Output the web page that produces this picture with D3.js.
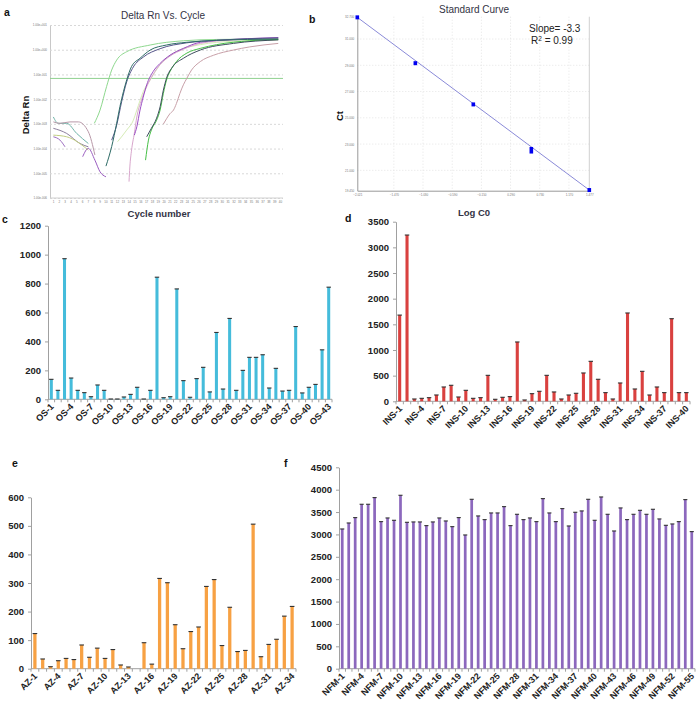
<!DOCTYPE html>
<html><head><meta charset="utf-8">
<script src="https://cdn.jsdelivr.net/npm/d3@7"></script>
<style>
body{margin:0;background:#fff}
svg{display:block;font-family:Arial,"Liberation Sans",sans-serif}
</style>
</head><body>
<svg id="chart" width="697" height="706"></svg>
<script>
// ================= DATA =================
// Panel a: amplification curves, [cycle, delta Rn]
const ampRnTicks = [1e-6, 1e-5, 1e-4, 1e-3, 1e-2, 1e-1, 1e0, 1e1];
const ampCycleTicks = d3.range(1, 41);
const ampThreshold = 0.069;
const ampNoise1 = [[1.06,1.9e-3],[1.9,1.05e-3],[3.35,1.05e-3],[5.07,4.1e-4],[7.07,1.6e-4]];
const ampNoise2 = [[1.06,1.2e-3],[2.2,1.05e-3],[3.9,1.2e-3],[5.35,1.2e-3],[7.07,4.8e-4],[8.2,5.5e-5]];
const ampNoise3 = [[1.06,6.6e-4],[3.35,4.1e-4],[5.64,1.6e-4],[7.07,1.18e-4]];
const ampNoise4 = [[1.06,3.5e-4],[3.35,3e-4],[7.07,8.7e-5]];
const ampNoise5 = [[1.06,3e-4],[2.2,2.2e-4],[3.06,1.18e-4]];
const ampNoise6 = [[6.1,4.7e-5],[7.07,1.02e-4],[8.2,3.4e-5],[9.08,1.15e-5],[10.1,7.2e-6]];
const ampCurve1 = [[8.1,1.05e-3],[9.08,3.6e-3],[10.2,3.2e-2],[11.08,0.15],[11.94,0.38],[13.66,0.83],[17.7,1.55],[23.4,2.3],[29.1,2.6],[39.7,2.7]];
const ampCurve2 = [[10.1,1.95e-5],[11.08,1.2e-4],[11.94,1.05e-3],[12.5,5e-3],[13.1,0.02],[13.66,0.06],[14.5,0.21],[15.95,0.45],[17.7,0.97],[20.5,1.55],[24,2.0],[29.1,2.4],[39.7,2.7]];
const ampCurve3 = [[11.08,2.2e-4],[11.94,8.9e-4],[12.8,8e-3],[13.66,0.05],[14.8,0.2],[16.5,0.5],[19.4,1.1],[24,1.9],[29.1,2.4],[39.7,3.0]];
const ampCurve4 = [[12.1,1.9e-4],[13.66,5.6e-4],[14.8,1.4e-3],[15.4,3.6e-3],[16.5,0.02],[17.7,0.06],[19.4,0.25],[22,0.8],[26.3,1.6],[32,2.2],[39.7,2.5]];
const ampCurve5 = [[14.97,3.5e-4],[15.4,7.6e-4],[15.95,3.6e-3],[16.5,0.012],[17.1,0.038],[18.2,0.13],[19.4,0.28],[21.1,0.6],[23.4,1.13],[26.3,2.0],[32,2.6],[39.7,3.1]];
const ampCurve6 = [[14.06,4.6e-6],[14.2,1.8e-5],[14.5,8.7e-5],[14.97,4.1e-4],[15.4,1.9e-3],[16.2,9.2e-3],[17.1,0.032],[18.2,0.1],[19.4,0.25],[21.1,0.55],[23.4,1.05],[26.3,1.8],[32,2.5],[39.7,2.9]];
const ampCurve7 = [[16.9,3.4e-5],[17.4,2.2e-4],[17.9,5.6e-4],[18.8,1.4e-3],[19.4,3.6e-3],[19.96,0.017],[20.5,0.059],[21.1,0.13],[22.2,0.33],[24,0.73],[26.3,1.13],[29.1,1.6],[34.8,2.3],[39.7,2.6]];
const ampCurve8 = [[17.1,3e-4],[17.9,6.6e-4],[18.8,1.7e-3],[19.4,4.9e-3],[19.96,0.023],[20.5,0.07],[21.6,0.21],[23.4,0.45],[26.3,0.97],[32,1.8],[39.7,2.5]];
const ampCurve9 = [[19.96,9.8e-4],[20.5,1.6e-3],[21.1,2.6e-3],[21.7,3.6e-3],[22.2,6.6e-3],[22.8,0.017],[23.4,0.038],[24,0.07],[24.8,0.15],[26.3,0.33],[28.6,0.6],[32,0.97],[34.8,1.3],[39.7,1.8]];

// Panel b: standard curve
const stdLogC0 = [-2.021, -1.146, -0.272, 0.603, 1.477];
const stdCt = [32.65, 29.16, 26.02, 22.53, 19.5];
const stdCtErr = [0.1, 0.12, 0.15, 0.25, 0.1];
const stdGridX = [-1.47, -1.03, -0.59, -0.15, 0.29, 0.73, 1.17];
const stdGridY = [21, 23, 25, 27, 29, 31];
const stdSlopeText = "Slope= -3.3";
const stdR2Value = "0.99";

// Panel c: OS
const osSamples = d3.range(1, 44).map(i => "OS-" + i);
const osValues = [138,62,972,147,62,46,18,99,62,2,2,16,34,83,2,62,844,11,18,763,129,14,143,221,51,462,71,559,62,200,290,290,308,78,214,57,62,503,44,83,103,342,775];
const osTicks = [0,200,400,600,800,1000,1200];

// Panel d: INS
const insSamples = d3.range(1, 41).map(i => "INS-" + i);
const insValues = [1680,3240,45,58,71,123,279,312,84,214,58,71,506,39,78,91,1156,26,149,195,506,182,45,123,156,552,779,429,169,45,357,1721,240,584,123,279,169,1610,169,169];
const insTicks = [0,500,1000,1500,2000,2500,3000,3500];

// Panel e: AZ
const azSamples = d3.range(1, 35).map(i => "AZ-" + i);
const azValues = [123,34,7,28,36,32,83,40,72,36,67,13,6,0,91,16,316,301,154,70,130,146,288,312,81,215,60,64,506,42,85,103,184,218];
const azTicks = [0,100,200,300,400,500,600];

// Panel f: NFM
const nfmSamples = d3.range(1, 56).map(i => "NFM-" + i);
const nfmValues = [3122,3256,3376,3674,3674,3823,3286,3368,3316,3875,
  3271,3279,3279,3197,3279,3368,3301,3174,3376,2988,
  3785,3413,3331,3480,3480,3621,3197,3450,3331,3368,
  3286,3800,3480,3286,3577,3189,3495,3525,3785,3316,
  3837,3450,3077,3592,3331,3450,3539,3450,3562,3346,
  3204,3234,3286,3778,3063];
const nfmTicks = [0,500,1000,1500,2000,2500,3000,3500,4000,4500];

// ================= DRAW =================
const svg = d3.select("#chart");

function panelLetter(t, x, y) {
  svg.append("text").attr("x", x).attr("y", y).attr("font-size", 10.5)
    .attr("font-weight", "bold").attr("fill", "#111").text(t);
}
panelLetter("a", 4, 16);
panelLetter("b", 309, 22.5);
panelLetter("c", 2, 222.5);
panelLetter("d", 345, 221.5);
panelLetter("e", 12, 467);
panelLetter("f", 284, 467);

// ---------- Panel a ----------
(function () {
  const x = d3.scaleLinear().domain([1, 40]).range([53, 280]);
  const y = d3.scaleLog().domain([1e-6, 1e1]).range([198, 25]);
  const g = svg.append("g");
  const fmt = v => {
    const e = Math.round(Math.log10(v));
    const s = e < 0 ? "-" : "+";
    return "1.00e" + s + String(Math.abs(e)).padStart(3, "0");
  };
  const yAx = g.append("g").attr("transform", "translate(50,0)")
    .call(d3.axisLeft(y).tickValues(ampRnTicks).tickFormat(fmt).tickSize(-233).tickSizeOuter(0).tickPadding(3));
  yAx.select(".domain").attr("stroke", "#c8c8c8");
  yAx.selectAll(".tick line").attr("stroke", "#d8d8d8").attr("stroke-dasharray", "2,2");
  yAx.selectAll(".tick text").attr("font-size", 3).attr("fill", "#777");
  const xAx = g.append("g").attr("transform", "translate(0,198)")
    .call(d3.axisBottom(x).tickValues(ampCycleTicks).tickSize(0).tickSizeOuter(0).tickPadding(3));
  xAx.select(".domain").attr("stroke", "#d0d0d0").attr("d", "M50,0H283");
  xAx.selectAll(".tick text").attr("font-size", 3).attr("fill", "#777");

  g.append("line").attr("x1", 50).attr("x2", 283)
    .attr("y1", y(ampThreshold)).attr("y2", y(ampThreshold))
    .attr("stroke", "#8fd08f").attr("stroke-width", 1);

  const line = d3.line().x(d => x(d[0])).y(d => y(d[1])).curve(d3.curveMonotoneX);
  const curves = [
    [ampNoise1, "#6fb3a8"], [ampNoise2, "#b898a8"], [ampNoise3, "#8c7f9c"],
    [ampNoise4, "#c2cf82"], [ampNoise5, "#9c6cc0"], [ampNoise6, "#9a5cc0"],
    [ampCurve4, "#d6ecb6"], [ampCurve9, "#c8a0a8"], [ampCurve6, "#d8a6cc"],
    [ampCurve1, "#8ed88e"], [ampCurve7, "#46c046"], [ampCurve8, "#3d4d5d"],
    [ampCurve5, "#9a4ec4"], [ampCurve3, "#55558a"], [ampCurve2, "#2e6b66"]
  ];
  curves.forEach(([d, c]) => g.append("path").attr("d", line(d)).attr("fill", "none")
    .attr("stroke", c).attr("stroke-width", 1));

  svg.append("text").attr("x", 163).attr("y", 19).attr("text-anchor", "middle")
    .attr("font-size", 10).attr("fill", "#333344").text("Delta Rn Vs. Cycle");
  svg.append("text").attr("x", 159).attr("y", 217).attr("text-anchor", "middle")
    .attr("font-size", 9.5).attr("font-weight", "bold").attr("fill", "#333344").text("Cycle number");
  svg.append("text").attr("transform", "translate(29,115) rotate(-90)").attr("text-anchor", "middle")
    .attr("font-size", 9.5).attr("font-weight", "bold").attr("fill", "#111").text("Delta Rn");
})();

// ---------- Panel b ----------
(function () {
  const x = d3.scaleLinear().domain([-2.021, 1.477]).range([357.3, 589.3]);
  const y = d3.scaleLinear().domain([19.45, 32.7]).range([190.7, 16.7]);
  const g = svg.append("g");
  stdGridX.forEach(v => g.append("line").attr("x1", x(v)).attr("x2", x(v)).attr("y1", 16.7).attr("y2", 190.7)
    .attr("stroke", "#e4e4e4").attr("stroke-dasharray", "1,2"));
  stdGridY.forEach(v => g.append("line").attr("x1", 357.3).attr("x2", 589.3).attr("y1", y(v)).attr("y2", y(v))
    .attr("stroke", "#e4e4e4").attr("stroke-dasharray", "1,2"));
  const yAx = g.append("g").attr("transform", "translate(357.3,0)")
    .call(d3.axisLeft(y).tickValues([19.45].concat(stdGridY, [32.7])).tickFormat(d3.format(".3f")).tickSize(0).tickPadding(3));
  yAx.select(".domain").attr("stroke", "#999");
  yAx.selectAll(".tick text").attr("font-size", 3).attr("fill", "#777");
  const xAx = g.append("g").attr("transform", "translate(0,190.7)")
    .call(d3.axisBottom(x).tickValues([-2.021].concat(stdGridX, [1.477])).tickFormat(d3.format(".3f")).tickSize(0).tickPadding(3));
  xAx.select(".domain").attr("stroke", "#999");
  xAx.selectAll(".tick text").attr("font-size", 3).attr("fill", "#777");
  g.append("line").attr("x1", 589.3).attr("x2", 589.3).attr("y1", 16.7).attr("y2", 190.7).attr("stroke", "#d0d0d0");

  const n = stdLogC0.length - 1;
  g.append("line").attr("x1", x(stdLogC0[0])).attr("y1", y(stdCt[0]))
    .attr("x2", x(stdLogC0[n])).attr("y2", y(stdCt[n]))
    .attr("stroke", "#8a8ad8").attr("stroke-width", 1);
  stdLogC0.forEach((v, i) => {
    const top = y(stdCt[i] + stdCtErr[i]), bot = y(stdCt[i] - stdCtErr[i]);
    const h = Math.max(4, bot - top);
    g.append("rect").attr("x", x(v) - 1.8).attr("y", (top + bot) / 2 - h / 2)
      .attr("width", 3.6).attr("height", h).attr("fill", "#0000f0");
  });

  svg.append("text").attr("x", 474).attr("y", 13).attr("text-anchor", "middle")
    .attr("font-size", 10).attr("fill", "#333344").text("Standard Curve");
  svg.append("text").attr("x", 529).attr("y", 32).attr("font-size", 10).attr("fill", "#222").text(stdSlopeText);
  const r = svg.append("text").attr("x", 531).attr("y", 44).attr("font-size", 10).attr("fill", "#222");
  r.append("tspan").text("R");
  r.append("tspan").attr("dy", -3.5).attr("font-size", 6.5).text("2");
  r.append("tspan").attr("dy", 3.5).text(" = " + stdR2Value);
  svg.append("text").attr("transform", "translate(343,116) rotate(-90)").attr("text-anchor", "middle")
    .attr("font-size", 9.5).attr("font-weight", "bold").attr("fill", "#111").text("Ct");
  svg.append("text").attr("x", 474).attr("y", 215.5).attr("text-anchor", "middle")
    .attr("font-size", 9.5).attr("font-weight", "bold").attr("fill", "#333344").text("Log C0");
})();

// ---------- Bar panels ----------
function barPanel(o) {
  const g = svg.append("g");
  const x = d3.scaleBand().domain(o.cats).range([o.x0, o.x1]).padding(0);
  const y = d3.scaleLinear().domain([0, o.ticks[o.ticks.length - 1]]).range([o.bottom, o.top]);
  const yAx = g.append("g").attr("transform", `translate(${o.x0},0)`)
    .call(d3.axisLeft(y).tickValues(o.ticks).tickFormat(d3.format("d")).tickSize(3).tickSizeOuter(0).tickPadding(4));
  yAx.select(".domain").attr("stroke", "#a0a0a0");
  yAx.selectAll(".tick line").attr("stroke", "#a0a0a0");
  yAx.selectAll(".tick text").attr("font-size", 9.5).attr("font-weight", "bold").attr("fill", "#222")
    .attr("font-family", "Arial, 'Liberation Sans', sans-serif");
  g.append("line").attr("x1", o.x0).attr("x2", o.x1).attr("y1", o.bottom).attr("y2", o.bottom).attr("stroke", "#a0a0a0");
  o.cats.forEach(c => g.append("line").attr("x1", x(c)).attr("x2", x(c)).attr("y1", o.bottom).attr("y2", o.bottom + 3).attr("stroke", "#a0a0a0"));
  g.append("line").attr("x1", o.x1).attr("x2", o.x1).attr("y1", o.bottom).attr("y2", o.bottom + 3).attr("stroke", "#a0a0a0");
  const bw = x.bandwidth() * o.frac;
  o.cats.forEach((c, i) => {
    const v = o.vals[i];
    const cx = x(c) + x.bandwidth() / 2;
    if (v > 0) {
      g.append("rect").attr("x", cx - bw / 2).attr("y", y(v)).attr("width", bw).attr("height", o.bottom - y(v))
        .attr("fill", o.color);
      g.append("line").attr("x1", cx - bw / 2 - 0.7).attr("x2", cx + bw / 2 + 0.7).attr("y1", y(v)).attr("y2", y(v))
        .attr("stroke", "#333").attr("stroke-width", 1.1);
    }
    if (i % 3 === 0) {
      g.append("text").attr("transform", `translate(${cx + 3},${o.bottom + 8}) rotate(-45)`)
        .attr("text-anchor", "end").attr("font-size", 9).attr("font-weight", "bold").attr("fill", "#222").text(c);
    }
  });
}

barPanel({cats: osSamples, vals: osValues, ticks: osTicks, x0: 48, x1: 332, top: 225.7, bottom: 399.3, color: "#45bcdb", frac: 0.46});
barPanel({cats: insSamples, vals: insValues, ticks: insTicks, x0: 396, x1: 690, top: 221.7, bottom: 401.3, color: "#d9413f", frac: 0.42});
barPanel({cats: azSamples, vals: azValues, ticks: azTicks, x0: 31, x1: 296, top: 497.3, bottom: 668.7, color: "#f7a143", frac: 0.42});
barPanel({cats: nfmSamples, vals: nfmValues, ticks: nfmTicks, x0: 339, x1: 695, top: 467.3, bottom: 668.7, color: "#8c68bd", frac: 0.42});
</script>
</body></html>
